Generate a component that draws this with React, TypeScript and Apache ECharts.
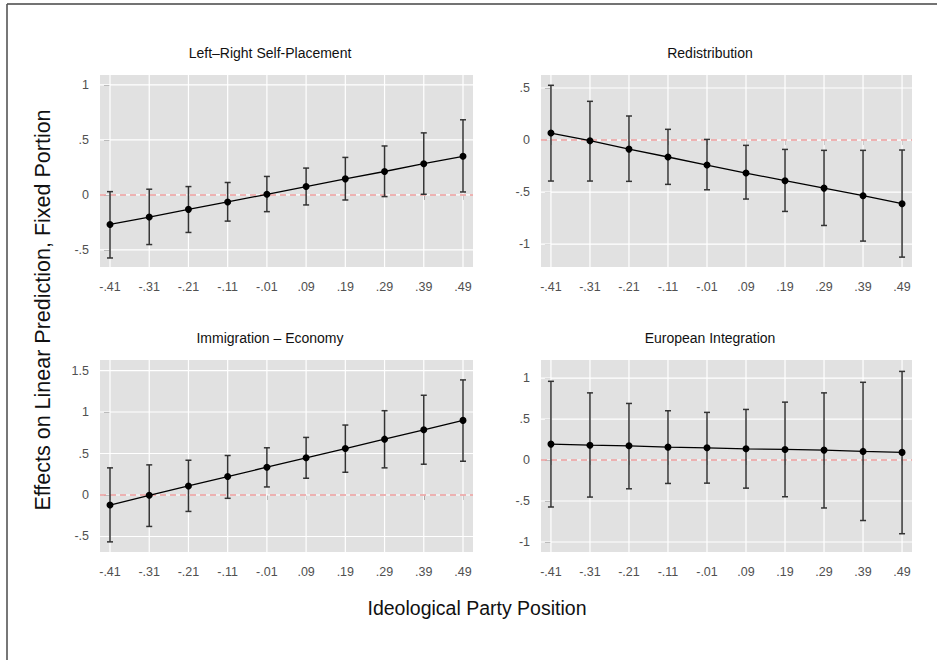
import React, { useEffect, useRef } from "react";
import * as echarts from "echarts";

const xLabels = ["-.41", "-.31", "-.21", "-.11", "-.01", ".09", ".19", ".29", ".39", ".49"];

const panelTitles = ["Left–Right Self-Placement", "Redistribution", "Immigration – Economy", "European Integration"];

const lrEst = [-0.268, -0.201, -0.131, -0.064, 0.006, 0.076, 0.146, 0.213, 0.284, 0.351];
const lrLow = [-0.573, -0.451, -0.341, -0.238, -0.152, -0.091, -0.046, -0.015, 0.006, 0.027];
const lrHigh = [0.03, 0.052, 0.076, 0.113, 0.168, 0.244, 0.341, 0.445, 0.564, 0.683];

const redEst = [0.067, -0.006, -0.087, -0.163, -0.24, -0.317, -0.391, -0.462, -0.535, -0.612];
const redLow = [-0.394, -0.394, -0.397, -0.426, -0.478, -0.567, -0.686, -0.821, -0.971, -1.125];
const redHigh = [0.526, 0.372, 0.231, 0.103, 0.006, -0.051, -0.09, -0.099, -0.099, -0.096];

const immEst = [-0.121, -0.004, 0.109, 0.222, 0.335, 0.448, 0.56, 0.673, 0.786, 0.899];
const immLow = [-0.565, -0.379, -0.198, -0.04, 0.097, 0.202, 0.274, 0.327, 0.371, 0.407];
const immHigh = [0.327, 0.363, 0.419, 0.476, 0.569, 0.694, 0.843, 1.016, 1.202, 1.387];

const euEst = [0.194, 0.181, 0.173, 0.157, 0.149, 0.137, 0.129, 0.121, 0.105, 0.093];
const euLow = [-0.573, -0.452, -0.351, -0.286, -0.282, -0.343, -0.448, -0.585, -0.738, -0.899];
const euHigh = [0.96, 0.819, 0.69, 0.601, 0.581, 0.617, 0.706, 0.819, 0.948, 1.081];

const lrTicks = [-0.5, 0, 0.5, 1];
const redTicks = [-1, -0.5, 0, 0.5];
const immTicks = [-0.5, 0, 0.5, 1, 1.5];
const euTicks = [-1, -0.5, 0, 0.5, 1];

const xTitle = "Ideological Party Position";
const yTitle = "Effects on Linear Prediction, Fixed Portion";

const FONT = "'Liberation Sans', Arial, sans-serif";

const fmtY = (v: number) => {
  if (v === 0) return "0";
  let s = String(Math.abs(v));
  if (s.startsWith("0.")) s = s.slice(1);
  return (v < 0 ? "-" : "") + s;
};

export default function App() {
  const ref = useRef<HTMLDivElement>(null);
  useEffect(() => {
    if (!ref.current) return;
    const chart = echarts.init(ref.current, null, { renderer: "svg" });

    const panels = [
      { est: lrEst, low: lrLow, high: lrHigh, ticks: lrTicks, min: -0.655, max: 1.09, left: 100, top: 75, width: 373 },
      { est: redEst, low: redLow, high: redHigh, ticks: redTicks, min: -1.22, max: 0.625, left: 541, top: 75, width: 371 },
      { est: immEst, low: immLow, high: immHigh, ticks: immTicks, min: -0.687, max: 1.627, left: 100, top: 360, width: 373 },
      { est: euEst, low: euLow, high: euHigh, ticks: euTicks, min: -1.122, max: 1.22, left: 541, top: 360, width: 371 },
    ];
    const idx = xLabels.map((_, i) => i);

    const grid: any[] = [];
    const xAxis: any[] = [];
    const yAxis: any[] = [];
    const series: any[] = [];
    const graphic: any[] = [];

    panels.forEach((p, k) => {
      grid.push({
        left: p.left,
        top: p.top,
        width: p.width,
        height: 192,
        show: true,
        backgroundColor: "#e1e1e1",
        borderWidth: 0,
      });
      xAxis.push({
        type: "value",
        gridIndex: k,
        min: -0.255,
        max: 9.255,
        offset: 2,
        axisLine: { show: false },
        axisTick: { show: true, length: 5, customValues: idx, lineStyle: { color: "#777", width: 1 } },
        axisLabel: {
          customValues: idx,
          formatter: (v: number) => xLabels[Math.round(v)],
          color: "#505050",
          fontSize: 12.5,
          fontFamily: FONT,
          margin: 11,
        },
        splitLine: { show: false },
      });
      yAxis.push({
        type: "value",
        gridIndex: k,
        min: p.min,
        max: p.max,
        offset: 1,
        axisLine: { show: false },
        axisTick: { show: true, length: 6, customValues: p.ticks, lineStyle: { color: "#777", width: 1 } },
        axisLabel: {
          customValues: p.ticks,
          formatter: (v: number) => fmtY(v),
          color: "#505050",
          fontSize: 12.5,
          fontFamily: FONT,
          margin: 10,
        },
        splitLine: { show: false },
      });
      // horizontal gridlines
      series.push({
        type: "custom",
        xAxisIndex: k,
        yAxisIndex: k,
        z: 1,
        silent: true,
        data: p.ticks.map((t) => [0, t]),
        renderItem: (params: any, api: any) => {
          const cs = params.coordSys;
          const y = api.coord([0, api.value(1)])[1];
          return {
            type: "line",
            shape: { x1: cs.x, y1: y, x2: cs.x + cs.width, y2: y },
            style: { stroke: "#ffffff", lineWidth: 1.2 },
          };
        },
      });
      // vertical gridlines
      series.push({
        type: "custom",
        xAxisIndex: k,
        yAxisIndex: k,
        z: 1,
        silent: true,
        data: idx.map((i) => [i, 0]),
        renderItem: (params: any, api: any) => {
          const cs = params.coordSys;
          const x = api.coord([api.value(0), 0])[0];
          return {
            type: "line",
            shape: { x1: x, y1: cs.y, x2: x, y2: cs.y + cs.height },
            style: { stroke: "#ffffff", lineWidth: 1.2 },
          };
        },
      });
      // zero reference line
      series.push({
        type: "custom",
        xAxisIndex: k,
        yAxisIndex: k,
        z: 2,
        silent: true,
        data: [[0, 0]],
        renderItem: (params: any, api: any) => {
          const cs = params.coordSys;
          const y = api.coord([0, api.value(1)])[1];
          return {
            type: "line",
            shape: { x1: cs.x, y1: y, x2: cs.x + cs.width, y2: y },
            style: { stroke: "#ea9c9c", lineWidth: 1.5, lineDash: [6, 4] },
          };
        },
      });
      // error bars
      series.push({
        type: "custom",
        xAxisIndex: k,
        yAxisIndex: k,
        z: 3,
        silent: true,
        data: idx.map((i) => [i, p.low[i], p.high[i]]),
        renderItem: (params: any, api: any) => {
          const lo = api.coord([api.value(0), api.value(1)]);
          const hi = api.coord([api.value(0), api.value(2)]);
          const c = 3;
          const st = { stroke: "#333", lineWidth: 1.5 };
          return {
            type: "group",
            children: [
              { type: "line", shape: { x1: lo[0], y1: lo[1], x2: hi[0], y2: hi[1] }, style: st },
              { type: "line", shape: { x1: lo[0] - c, y1: lo[1], x2: lo[0] + c, y2: lo[1] }, style: st },
              { type: "line", shape: { x1: hi[0] - c, y1: hi[1], x2: hi[0] + c, y2: hi[1] }, style: st },
            ],
          };
        },
      });
      // estimates
      series.push({
        type: "line",
        xAxisIndex: k,
        yAxisIndex: k,
        z: 4,
        data: idx.map((i) => [i, p.est[i]]),
        symbol: "circle",
        symbolSize: 7,
        itemStyle: { color: "#000" },
        lineStyle: { color: "#000", width: 1.3 },
        silent: true,
      });
    });

    const titlePos = [
      [270, 53],
      [710, 53],
      [270, 338],
      [710, 338],
    ];
    panelTitles.forEach((t, k) => {
      graphic.push({
        type: "text",
        x: titlePos[k][0],
        y: titlePos[k][1],
        style: {
          text: t,
          fill: "#111",
          fontSize: 14,
          fontFamily: FONT,
          textAlign: "center",
          textVerticalAlign: "middle",
          align: "center",
          verticalAlign: "middle",
        },
      });
    });
    graphic.push({
      type: "text",
      x: 477,
      y: 608,
      style: {
        text: xTitle,
        fill: "#111",
        fontSize: 19.5,
        fontFamily: FONT,
        textAlign: "center",
        textVerticalAlign: "middle",
        align: "center",
        verticalAlign: "middle",
      },
    });
    graphic.push({
      type: "text",
      x: 43,
      y: 310,
      rotation: Math.PI / 2,
      style: {
        text: yTitle,
        fill: "#111",
        fontSize: 21.5,
        fontFamily: FONT,
        textAlign: "center",
        textVerticalAlign: "middle",
        align: "center",
        verticalAlign: "middle",
      },
    });
    graphic.push({
      type: "line",
      shape: { x1: 7, y1: 4, x2: 937, y2: 4 },
      style: { stroke: "#444", lineWidth: 1.6 },
    });
    graphic.push({
      type: "line",
      shape: { x1: 7, y1: 4, x2: 7, y2: 660 },
      style: { stroke: "#555", lineWidth: 1.6 },
    });

    chart.setOption({
      animation: false,
      backgroundColor: "#ffffff",
      grid,
      xAxis,
      yAxis,
      series,
      graphic,
    });
    return () => chart.dispose();
  }, []);
  return (
    <div
      ref={ref}
      style={{ position: "fixed", left: 0, top: 0, width: 937, height: 660, background: "#fff" }}
    />
  );
}
